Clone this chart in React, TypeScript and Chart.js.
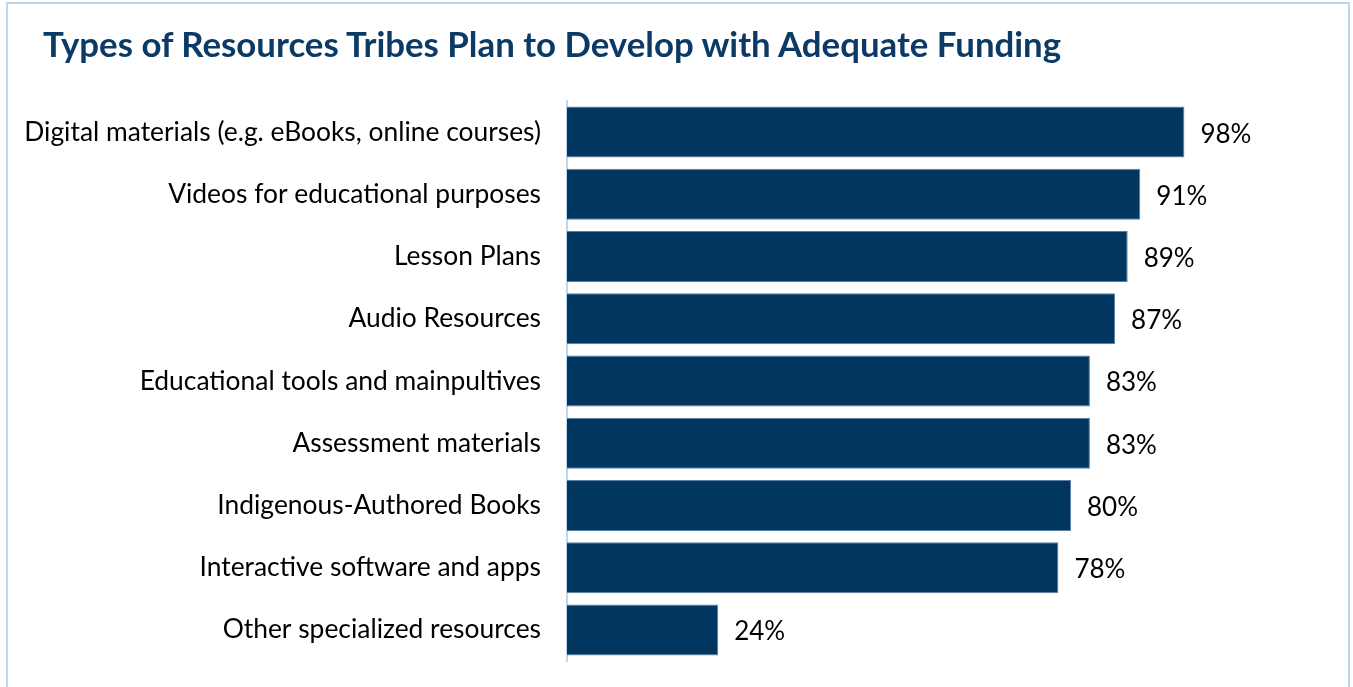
import React, { useEffect, useRef } from "react";
import { Chart, registerables } from "chart.js";

Chart.register(...registerables);

const categories = [
  "Digital materials (e.g. eBooks, online courses)",
  "Videos for educational purposes",
  "Lesson Plans",
  "Audio Resources",
  "Educational tools and mainpultives",
  "Assessment materials",
  "Indigenous-Authored Books",
  "Interactive software and apps",
  "Other specialized resources",
];
const values = [98, 91, 89, 87, 83, 83, 80, 78, 24];
const titleText = "Types of Resources Tribes Plan to Develop with Adequate Funding";

const FONT = "Lato, 'Open Sans', sans-serif";

const valueLabels = {
  id: "valueLabels",
  afterDatasetsDraw(chart: any) {
    const ctx = chart.ctx;
    const meta = chart.getDatasetMeta(0);
    ctx.save();
    ctx.font = `26px ${FONT}`;
    ctx.fillStyle = "#000000";
    ctx.textAlign = "left";
    ctx.textBaseline = "middle";
    meta.data.forEach((bar: any, i: number) => {
      ctx.fillText(values[i] + "%", bar.x + 16, bar.y + 2);
    });
    ctx.restore();
  },
};

export default function App() {
  const ref = useRef<HTMLCanvasElement>(null);
  useEffect(() => {
    const chart = new Chart(ref.current!, {
      type: "bar",
      data: {
        labels: categories,
        datasets: [
          {
            data: values,
            backgroundColor: "#003660",
            borderColor: "#5b7fa3",
            borderWidth: 1,
            barPercentage: 0.82,
            categoryPercentage: 1,
          },
        ],
      },
      options: {
        indexAxis: "y",
        animation: false,
        responsive: false,
        maintainAspectRatio: false,
        layout: { padding: { left: 0, right: 156, top: 101, bottom: 26 } },
        plugins: { legend: { display: false }, tooltip: { enabled: false } },
        scales: {
          x: { display: false, min: 0, max: 100 },
          y: {
            afterFit(scale: any) {
              scale.width = 567;
              scale.paddingTop = 0;
              scale.paddingBottom = 0;
            },
            grid: { display: false, drawTicks: false },
            border: { display: true, color: "#BDD7EE", width: 2 },
            ticks: {
              padding: 26,
              color: "#000000",
              font: { family: FONT, size: 26.4 },
            },
          },
        },
      },
      plugins: [valueLabels],
    });
    return () => chart.destroy();
  }, []);
  return (
    <div style={{ position: "fixed", left: 0, top: 0, width: 1353, height: 687, background: "#fff", overflow: "hidden" }}>
      <div
        style={{
          position: "absolute",
          left: 6,
          top: 2,
          width: 1344,
          height: 720,
          border: "2px solid #BDD7EE",
          boxSizing: "border-box",
        }}
      />
      <canvas ref={ref} width={1353} height={687} style={{ position: "absolute", left: 0, top: 0 }} />
      <div
        style={{
          position: "absolute",
          left: 43,
          top: 24,
          fontFamily: FONT,
          fontWeight: 700,
          fontSize: 34.8,
          color: "#0B3A66",
          whiteSpace: "nowrap",
          lineHeight: "40px",
        }}
      >
        {titleText}
      </div>
    </div>
  );
}
